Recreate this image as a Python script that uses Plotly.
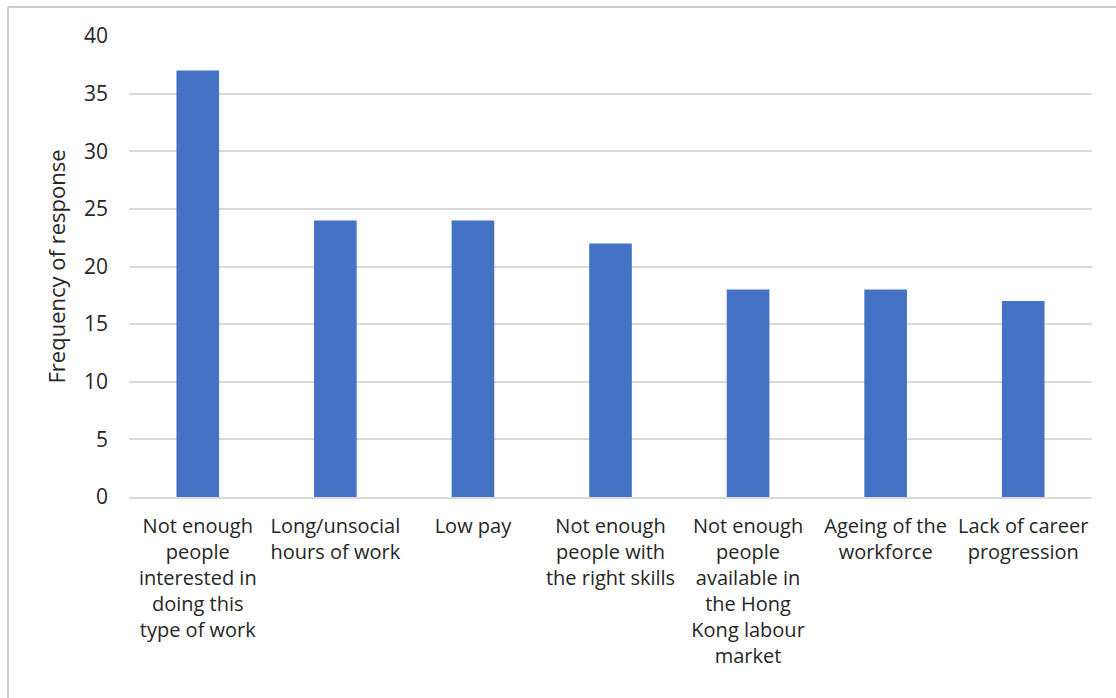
import plotly.graph_objects as go

categories = [
    "Not enough<br>people<br>interested in<br>doing this<br>type of work",
    "Long/unsocial<br>hours of work",
    "Low pay",
    "Not enough<br>people with<br>the right skills",
    "Not enough<br>people<br>available in<br>the Hong<br>Kong labour<br>market",
    "Ageing of the<br>workforce",
    "Lack of career<br>progression",
]
values = [37, 24, 24, 22, 18, 18, 17]
y_ticks = [0, 5, 10, 15, 20, 25, 30, 35, 40]

W, H = 1116, 698
L, R, T, B = 129, 24, 36, 201
pw, ph = W - L - R, H - T - B

def px(x):
    return (x - L) / pw

def py(y):
    return (H - B - y) / ph

fig = go.Figure(go.Bar(x=categories, y=values, marker_color="#4472C4",
                       marker_line_width=0))

font_family = "Open Sans, Noto Sans, sans-serif"
fig.update_layout(
    width=W, height=H,
    margin=dict(l=L, r=R, t=T, b=B),
    paper_bgcolor="white", plot_bgcolor="white",
    bargap=0.69,
    font=dict(family=font_family, size=20, color="#262626"),
    showlegend=False,
    xaxis=dict(showgrid=False, showline=True, linecolor="#d9d9d9", linewidth=1.5,
               ticks="", tickangle=0, ticklabelstandoff=10,
               tickfont=dict(size=20)),
    yaxis=dict(range=[0, 40], tickvals=y_ticks, showgrid=True, gridcolor="#d9d9d9",
               gridwidth=1.5, zeroline=False, ticks="", ticklabelstandoff=20,
               tickfont=dict(size=21),
               title=dict(text="Frequency of response", font=dict(size=22), standoff=12)),
    shapes=[
        dict(type="line", xref="paper", yref="paper", x0=px(8), x1=px(1120),
             y0=py(7), y1=py(7), line=dict(color="#bfbfbf", width=1.5)),
        dict(type="line", xref="paper", yref="paper", x0=px(8), x1=px(8),
             y0=py(7), y1=py(702), line=dict(color="#bfbfbf", width=1.5)),
    ],
)

fig.write_html("out.html", config={"displayModeBar": False},
               post_script="document.body.style.margin='0';document.body.style.overflow='hidden';")
